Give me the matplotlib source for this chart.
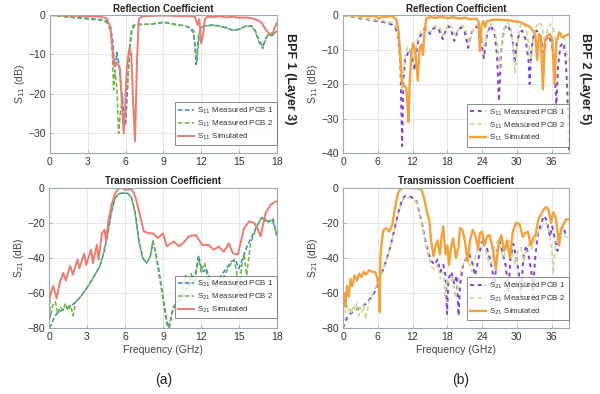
import matplotlib
matplotlib.use('Agg')
import matplotlib.pyplot as plt

plt.rcParams['font.family'] = ['Liberation Sans', 'DejaVu Sans']

# ---- BPF 1, S11 ----
s11a_f_sim = [0, 1, 2, 3, 4, 4.5, 4.8, 4.95, 5.1, 5.25, 5.4, 5.55, 5.7, 5.85, 5.95, 6.1, 6.3, 6.45,
              6.6, 6.75, 6.9, 7.05, 7.3, 8, 9, 10, 11, 11.5, 11.7, 11.85, 12.0, 12.15, 12.3, 12.5, 13,
              13.5, 14, 14.5, 15, 15.5, 16, 16.5, 16.8, 17.1, 17.4, 17.7, 17.85, 18]
s11a_sim = [0, -0.1, -0.2, -0.3, -0.4, -0.8, -3, -8, -13, -12, -12.5, -13.5, -22, -30, -25, -13, -8.5, -10,
            -22, -32, -12, -1, -0.3, -0.2, -0.1, -0.2, -0.3, -0.4, -2.5, -1, -7.2, -5, -1, -0.4, -0.5,
            -0.3, -0.6, -0.4, -0.7, -0.6, -0.8, -1.3, -2, -3.5, -4.8, -4.5, -3, -2]
s11a_f_m1 = [0, 1, 2, 3, 4, 4.5, 4.8, 5.0, 5.1, 5.2, 5.3, 5.45, 5.6, 5.75, 5.9, 6.0, 6.1, 6.2, 6.35,
             6.5, 6.7, 7, 8, 9, 9.5, 10, 10.5, 11, 11.4, 11.6, 11.8, 12, 12.5, 13, 13.5, 14, 14.5, 15,
             15.5, 16, 16.3, 16.6, 16.9, 17.1, 17.3, 17.6, 17.8, 18]
s11a_m1 = [0, -0.3, -0.6, -0.8, -1.1, -1.5, -3, -7, -12, -13, -9.5, -12, -17, -21, -27, -28, -22, -15, -8,
           -4, -2.6, -2.4, -2.3, -1.8, -2, -2.4, -2.6, -3, -4, -12.5, -5, -3, -2.6, -2.5, -2.8, -3.2, -3.8, -3.6,
           -2.8, -2.7, -4, -6.5, -8, -6, -5, -5.2, -4.8, -4]
s11a_f_m2 = [0, 1, 2, 3, 4, 4.5, 4.8, 4.95, 5.05, 5.15, 5.3, 5.45, 5.55, 5.7, 5.85, 6.0, 6.15, 6.3,
             6.45, 6.6, 7, 8, 9, 9.5, 10, 10.5, 11, 11.4, 11.65, 11.85, 12, 12.5, 13, 13.5, 14, 14.5,
             15, 15.5, 16, 16.3, 16.6, 16.9, 17.1, 17.3, 17.6, 17.8, 18]
s11a_m2 = [0, -0.4, -0.7, -1, -1.3, -1.8, -4, -10, -19, -14, -18, -30, -26, -22, -20.5, -20, -19, -9,
           -4, -2.6, -2.4, -2.3, -1.9, -2.1, -2.5, -2.7, -3.1, -4.5, -12, -5, -3.1, -2.7, -2.6, -2.9, -3.3, -3.9,
           -3.7, -2.9, -2.8, -4.2, -7, -8.5, -6.5, -5, -5, -4.6, -4.2]

# ---- BPF 1, S21 ----
s21a_f_sim = [0, 0.15, 0.34, 0.6, 0.85, 1.13, 1.32, 1.67, 1.88, 2.25, 2.4, 2.78, 2.93, 3.33, 3.46, 3.78,
              3.91, 4.18, 4.39, 4.5, 4.7, 4.97, 5.23, 5.5, 5.7, 6.0, 6.2, 6.5, 6.7, 6.85, 7.2, 7.5, 7.9,
              8.2, 8.6, 9.0, 9.3, 9.86, 10.25, 10.6, 11.05, 11.6, 12.1, 12.6, 13.0, 13.4, 13.8, 14.2,
              14.5, 14.9, 15.15, 15.4, 15.8, 16.2, 16.5, 16.7, 17.1, 17.5, 17.9, 18]
s21a_sim = [-65, -60, -56, -63, -54, -48.6, -53, -44.5, -49.6, -41, -46, -37.6, -43.9, -35.3, -43, -32.5,
            -41, -26, -24, -30.6, -18.3, -8.8, -3, -0.5, 0, -1.2, -1, -0.8, -3, -6, -16.4, -25, -26,
            -26, -28.7, -26, -33.4, -30.6, -33.4, -31.5, -27.7, -27, -32.6, -32.6, -35.4, -33.5, -36.5, -31.7,
            -37.3, -38.2, -30.6, -23, -19.2, -20, -24, -27.7, -14.5, -9.7, -7.8, -7.8]
s21a_f_m1 = [0, 0.2, 0.4, 0.7, 1.0, 1.5, 2.0, 2.5, 3.0, 3.5, 4.0, 4.3, 4.6, 4.9, 5.2, 5.5, 5.8, 6.2, 6.5,
             6.8, 7.1, 7.4, 7.7, 8.0, 8.2, 8.4, 8.7, 9.0, 9.3, 9.45, 9.6, 9.8, 10.2, 10.6, 10.9, 11.2,
             11.4, 11.6, 11.8, 12.0, 12.2, 12.4, 12.7, 13.0, 13.3, 13.6, 14.0, 14.4, 14.7, 15.0, 15.3,
             15.6, 16.0, 16.4, 16.8, 17.1, 17.4, 17.7, 18]
s21a_m1 = [-80, -78, -74, -71, -70, -68, -66, -62, -57, -51, -45, -38, -28, -15, -6, -3.5, -3, -3.2, -5,
           -14, -30, -40, -43, -39, -31, -36, -48, -62, -76, -80, -75, -68, -65, -62, -57, -55,
           -50, -48, -38.5, -45, -48, -46, -52, -56, -54, -50, -46, -42, -41, -46, -40,
           -34, -28, -22, -17, -19, -19, -18, -28]
s21a_f_m2 = [0, 0.1, 0.3, 0.5, 0.7, 0.9, 1.1, 1.3, 1.5, 1.7, 1.9, 2.1, 2.4, 2.8, 3.2, 3.6, 4.0, 4.3, 4.6,
             4.9, 5.2, 5.5, 5.8, 6.2, 6.5, 6.8, 7.1, 7.4, 7.7, 8.0, 8.2, 8.4, 8.7, 9.0, 9.3, 9.5, 9.7,
             10.0, 10.4, 10.8, 11.0, 11.2, 11.5, 11.8, 12.0, 12.3, 12.6, 12.9, 13.3, 13.7, 14.0, 14.3,
             14.6, 14.8, 15.0, 15.2, 15.4, 15.6, 15.9, 16.3, 16.7, 17.0, 17.3, 17.6, 18]
s21a_m2 = [-52, -74, -67, -65, -72, -68, -70, -66, -70, -67, -73, -65, -63, -59, -55, -50, -45, -37, -27,
           -14, -6, -3.5, -3, -3.3, -5.5, -15, -31, -40, -43, -39, -30, -37, -50, -64, -78, -80, -72,
           -66, -62, -50, -57, -49, -55, -40, -48, -43, -55, -60, -56, -52, -48, -44,
           -41, -47, -62, -45, -38, -50, -32, -24, -18, -17, -20, -18, -27]

# ---- BPF 2, S11 ----
s11b_f_sim = [0, 2, 4, 5.5, 6.2, 6.8, 7.5, 8.5, 9.2, 9.6, 9.9, 10.2, 10.5, 10.9, 11.1, 11.3, 11.5, 11.8,
              12.1, 12.5, 12.9, 13.2, 13.5, 13.8, 14.1, 14.4, 15, 16, 17, 18, 19, 20, 21, 22, 23, 23.4,
              23.6, 23.9, 24.2, 24.5, 24.8, 25.5, 26.5, 27.5, 28.5, 29.5, 30.5, 31.5, 32.3, 32.8, 33.2,
              33.5, 33.8, 34.1, 34.5, 34.8, 35.2, 35.7, 36.1, 36.5, 36.8, 37.3, 37.8, 38.4, 39]
s11b_sim = [0, -0.1, -0.3, -0.3, -1.0, -0.4, -0.5, -0.3, -1.2, -5, -12, -20, -20.5, -21, -25, -31, -20, -11,
            -8.2, -11, -19, -10, -8.5, -11.6, -4, -1, -0.6, -0.8, -0.5, -0.9, -0.6, -1, -0.8, -1.2, -1, -2,
            -10.5, -3, -1.8, -3.5, -1.8, -1.5, -1.3, -1.4, -1.5, -1.8, -2, -2.8, -3.5, -4.5, -6,
            -13, -5.5, -6, -21.5, -8, -6, -5.5, -7, -20, -8, -5, -6.5, -6, -5.5]
s11b_f_m1 = [0, 1, 2, 3, 4, 5, 6, 7, 7.8, 8.5, 9, 9.5, 9.9, 10.2, 10.4, 10.7, 11, 11.4, 11.8, 12.1, 12.4,
             12.7, 13.1, 13.6, 14.1, 14.6, 15.0, 15.5, 16.1, 16.6, 17.2, 17.7, 18.2, 18.7, 19.2, 19.8,
             20.4, 21.0, 21.6, 22.2, 23.0, 23.7, 24.3, 24.9, 25.5, 26.2, 26.6, 26.9, 27.3, 27.8, 28.3,
             28.9, 29.3, 29.6, 30, 30.5, 30.9, 31.5, 32.0, 32.2, 32.5, 33.0, 33.4, 34.0, 34.6, 35.1,
             35.6, 36.2, 36.6, 36.8, 37.1, 37.5, 38, 38.4, 38.7, 39]
s11b_m1 = [0, -0.3, -0.6, -1, -1.2, -1.5, -1.8, -2, -2.4, -2.8, -3.5, -6, -14, -38, -20, -13, -12, -10, -11,
           -14, -16, -10, -6.5, -5.5, -4, -4, -5.5, -4, -3.5, -4.5, -7, -4.5, -3.2, -4.5, -7.5, -4.5,
           -3.5, -5, -9.5, -5, -3.2, -6, -12.5, -5, -3, -6, -12, -25, -10, -4, -2.8,
           -4.5, -8, -14, -8, -5, -4.5, -7, -13, -20, -10, -5, -4.5, -6, -11, -7,
           -6, -10, -18, -27, -15, -9, -8, -12, -22, -40]
s11b_f_m2 = [0, 1, 2, 3, 4, 5, 6, 7, 8, 8.7, 9.2, 9.6, 9.9, 10.2, 10.5, 10.8, 11.2, 11.6, 12.0, 12.4,
             12.7, 13.1, 13.6, 14.1, 14.7, 15.1, 15.6, 16.2, 16.8, 17.3, 17.8, 18.4, 18.9, 19.4, 20,
             20.6, 21.2, 21.8, 22.4, 23.1, 23.8, 24.4, 25, 25.6, 26.2, 26.7, 27.0, 27.4, 27.9, 28.5,
             29.0, 29.4, 29.7, 30.1, 30.6, 31.1, 31.6, 32.1, 32.4, 32.8, 33.3, 33.8, 34.3, 34.8, 35.3,
             35.8, 36.3, 36.8, 37.2, 37.7, 38.2, 38.7, 39]
s11b_m2 = [0, -0.3, -0.5, -0.8, -1, -1.3, -1.5, -1.7, -2, -2.5, -3.5, -7, -15, -22, -15, -11, -9, -10, -12, -13,
           -8, -5.5, -4.5, -3.5, -4.2, -5, -3.5, -3, -4, -6, -3.8, -2.8, -3.8, -6, -3.8,
           -3, -4.5, -8, -4.2, -2.8, -5, -9, -4.2, -2.5, -4.5, -9, -15, -8, -3.5, -2.2,
           -4, -10, -17, -8, -3, -2.2, -4, -9, -14, -7, -3.5, -2, -3, -8, -4,
           -2.5, -4, -9, -6, -5, -7, -12, -13]

# ---- BPF 2, S21 ----
s21b_f_sim = [0, 0.2, 0.4, 0.7, 1.0, 1.3, 1.6, 2.0, 2.4, 2.8, 3.2, 3.6, 4.0, 4.5, 5.0, 5.5, 5.9, 6.05,
              6.15, 6.3, 6.45, 6.7, 7.0, 7.5, 8.0, 8.5, 9.0, 9.5, 10.0, 10.5, 11.5, 12.5, 13.2, 13.6,
              14.0, 14.5, 14.9, 15.2, 15.6, 16.0, 16.3, 16.7, 17.0, 17.3, 17.7, 18.0, 18.3, 18.6, 19.0,
              19.5, 19.9, 20.2, 20.6, 21.0, 21.5, 21.9, 22.4, 22.9, 23.3, 23.6, 24.0, 24.4, 24.8, 25.3,
              25.8, 26.35, 26.8, 27.3, 27.8, 28.3, 28.8, 29.3, 29.9, 30.5, 31.0, 31.4, 31.9, 32.4, 32.8,
              33.2, 33.7, 34.2, 34.7, 35.1, 35.5, 35.9, 36.3, 36.7, 37.0, 37.3, 37.6, 38.0, 38.5, 39]
s21b_sim = [-66, -60, -68, -56, -62, -52, -56, -50, -53, -49, -51, -48, -49.5, -47, -48, -48, -51, -55,
            -52, -71, -40, -30, -24, -23, -25, -21, -11, -3, -0.5, 0, 0, -0.3, -0.5, -1.5,
            -6, -14, -19, -30, -39, -33, -30, -38, -28, -22, -38, -33, -44, -35, -29,
            -40, -34, -23, -24, -30, -42, -30, -24, -28, -35, -26, -25, -33, -28, -27,
            -34, -46.5, -33, -27, -36, -30, -40, -25, -19.8, -21, -28, -26, -25, -33, -29,
            -27, -18, -15, -12, -11, -13, -20, -14, -17, -25, -33, -24, -21, -18, -18]
s21b_f_m1 = [0, 0.3, 0.7, 1.2, 2, 3, 4, 5, 5.7, 6.3, 7, 8, 9, 9.7, 10.3, 10.8, 11.5, 12.2, 12.6, 13.0,
             13.6, 14.2, 14.8, 15.3, 15.8, 16.3, 16.8, 17.3, 17.7, 17.95, 18.2, 18.7, 19.2, 19.6, 19.95,
             20.2, 20.7, 21.3, 21.8, 22.3, 22.8, 23.3, 23.8, 24.3, 24.8, 25.3, 25.8, 26.2, 26.6, 27.1,
             27.6, 28.1, 28.5, 28.9, 29.4, 29.9, 30.4, 30.7, 31.1, 31.6, 32.1, 32.5, 32.8, 33.1, 33.6,
             34.2, 34.7, 35.2, 35.7, 36.1, 36.6, 37.0, 37.4, 37.9, 38.4, 39]
s21b_m1 = [-80, -77, -74, -72, -70, -68.5, -66, -62, -58, -52, -46, -36, -22, -12, -6, -4.5, -5, -6, -7, -12,
           -20, -30, -38, -42, -44, -41, -48, -44, -50, -72, -52, -48, -55, -50, -73,
           -55, -44, -40, -38, -43, -50, -42, -33, -29, -34, -40, -48, -55, -36, -31,
           -38, -45, -60, -40, -32, -40, -50, -62, -40, -33, -40, -48, -62, -42, -27,
           -20, -16, -19, -28, -22, -30, -36, -26, -22, -26, -25]
s21b_f_m2 = [0, 0.3, 0.6, 0.9, 1.2, 1.5, 1.8, 2.1, 2.4, 2.7, 3.0, 3.3, 3.6, 3.9, 4.2, 4.5, 5.0, 5.6, 6.3,
             7, 8, 9, 9.7, 10.3, 10.8, 11.5, 12.2, 12.6, 13.0, 13.6, 14.2, 14.8, 15.3, 15.8, 16.3, 16.8,
             17.3, 17.6, 17.9, 18.4, 18.9, 19.4, 19.8, 20.3, 20.8, 21.3, 21.8, 22.3, 22.8, 23.3, 23.8,
             24.3, 24.8, 25.3, 25.7, 26.2, 26.7, 27.2, 27.7, 28.2, 28.7, 29.2, 29.7, 30.2, 30.7, 31.2,
             31.6, 32.1, 32.6, 33.1, 33.6, 34.1, 34.6, 35.1, 35.6, 36.0, 36.3, 36.6, 37.0, 37.5, 38,
             38.5, 39]
s21b_m2 = [-76, -72, -67, -71, -68, -72, -67, -70, -66, -73, -68, -71, -67, -75, -70, -65, -61, -57, -52,
           -46, -36, -23, -13, -7, -5.5, -6, -7, -8, -13, -21, -31, -40, -45, -47, -44, -52,
           -48, -62, -52, -55, -50, -63, -55, -48, -42, -40, -44, -48, -40, -34, -30,
           -33, -38, -44, -42, -33, -30, -35, -40, -34, -30, -37, -44, -36, -34, -42,
           -36, -32, -35, -30, -26, -24, -21, -20, -25, -35, -49, -34, -28, -26, -27,
           -28, -29]

# colours
c_blue = '#3383d6'
c_green = '#6cb43c'
c_red = '#ec7b70'
c_purple = '#7f44c9'
c_lime = '#c9d68e'
c_orange = '#f2a13c'
c_spine = '#9aa9b3'

fig = plt.figure(figsize=(6.0, 3.94), dpi=100)
fig.patch.set_facecolor('white')

ax_tl = fig.add_axes([0.0833, 0.6117, 0.378, 0.350])
ax_tr = fig.add_axes([0.5717, 0.6117, 0.3767, 0.350])
ax_bl = fig.add_axes([0.0817, 0.1675, 0.380, 0.356])
ax_br = fig.add_axes([0.5717, 0.1675, 0.3767, 0.356])


def style(ax, xmax, xticks, ymin, yticks, title, ylab, xlab=None):
    ax.set_xlim(0, xmax)
    ax.set_ylim(ymin, 0)
    ax.set_xticks(xticks)
    ax.set_yticks(yticks)
    ax.grid(True, color='#e3e3e3', linewidth=0.6)
    ax.set_axisbelow(True)
    for s in ax.spines.values():
        s.set_color(c_spine)
        s.set_linewidth(0.8)
    ax.tick_params(direction='in', length=2.5, width=0.6, colors=c_spine,
                   labelcolor='#333333', labelsize=7.5, pad=3)
    ax.set_title(title, fontsize=7, fontweight='bold', pad=2.5, color='#222222')
    ax.set_ylabel(ylab, fontsize=7.5, color='#444444', labelpad=1)
    if xlab:
        ax.set_xlabel(xlab, fontsize=7.5, color='#444444', labelpad=2)


# BPF 1 reflection
ax_tl.plot(s11a_f_m1, s11a_m1, color=c_blue, lw=1.1, ls=(0, (3, 1.5)), label='S$_{11}$ Measured PCB 1')
ax_tl.plot(s11a_f_m2, s11a_m2, color=c_green, lw=1.1, ls=(0, (3, 1.5)), label='S$_{11}$ Measured PCB 2')
ax_tl.plot(s11a_f_sim, s11a_sim, color=c_red, lw=1.4, label='S$_{11}$ Simulated')
style(ax_tl, 18, range(0, 19, 3), -35, [0, -10, -20, -30], 'Reflection Coefficient', 'S$_{11}$ (dB)')

# BPF 2 reflection
ax_tr.plot(s11b_f_m1, s11b_m1, color=c_purple, lw=1.4, ls=(0, (2, 2)), label='S$_{11}$ Measured PCB 1')
ax_tr.plot(s11b_f_m2, s11b_m2, color=c_lime, lw=1.1, ls=(0, (3, 2)), label='S$_{11}$ Measured PCB 2')
ax_tr.plot(s11b_f_sim, s11b_sim, color=c_orange, lw=1.7, label='S$_{11}$ Simulated')
style(ax_tr, 39, range(0, 37, 6), -40, [0, -10, -20, -30, -40], 'Reflection Coefficient', 'S$_{11}$ (dB)')

# BPF 1 transmission
ax_bl.plot(s21a_f_m1, s21a_m1, color=c_blue, lw=1.1, ls=(0, (3, 1.5)), label='S$_{21}$ Measured PCB 1')
ax_bl.plot(s21a_f_m2, s21a_m2, color=c_green, lw=1.1, ls=(0, (3, 1.5)), label='S$_{21}$ Measured PCB 2')
ax_bl.plot(s21a_f_sim, s21a_sim, color=c_red, lw=1.4, label='S$_{21}$ Simulated')
style(ax_bl, 18, range(0, 19, 3), -80, [0, -20, -40, -60, -80], 'Transmission Coefficient',
      'S$_{21}$ (dB)', 'Frequency (GHz)')

# BPF 2 transmission
ax_br.plot(s21b_f_m1, s21b_m1, color=c_purple, lw=1.4, ls=(0, (2, 2)), label='S$_{21}$ Measured PCB 1')
ax_br.plot(s21b_f_m2, s21b_m2, color=c_lime, lw=1.1, ls=(0, (3, 2)), label='S$_{21}$ Measured PCB 2')
ax_br.plot(s21b_f_sim, s21b_sim, color=c_orange, lw=1.7, label='S$_{21}$ Simulated')
style(ax_br, 39, range(0, 37, 6), -80, [0, -20, -40, -60, -80], 'Transmission Coefficient',
      'S$_{21}$ (dB)', 'Frequency (GHz)')

# legend offsets from the axes bottom
leg_y = {ax_tl: 0.058, ax_tr: 0.046, ax_bl: 0.069, ax_br: 0.057}
for ax in (ax_tl, ax_tr, ax_bl, ax_br):
    leg = ax.legend(loc='lower right', bbox_to_anchor=(1.0, leg_y[ax]), fontsize=5.7,
                    frameon=True, fancybox=False, borderaxespad=0, handlelength=2.0,
                    handletextpad=0.4, labelspacing=0.3, borderpad=0.4)
    leg.get_frame().set_edgecolor('#555555')
    leg.get_frame().set_linewidth(0.6)
    for t in leg.get_texts():
        t.set_color('#333333')

fig.text(0.483, 0.80, 'BPF 1 (Layer 3)', rotation=-90, fontsize=9, fontweight='bold',
         ha='center', va='center', color='#222222')
fig.text(0.975, 0.80, 'BPF 2 (Layer 5)', rotation=-90, fontsize=9, fontweight='bold',
         ha='center', va='center', color='#222222')
fig.text(0.272, 0.035, '(a)', fontsize=10, ha='center', va='center', color='#222222')
fig.text(0.767, 0.035, '(b)', fontsize=10, ha='center', va='center', color='#222222')

fig.savefig('out.png', dpi=100)
